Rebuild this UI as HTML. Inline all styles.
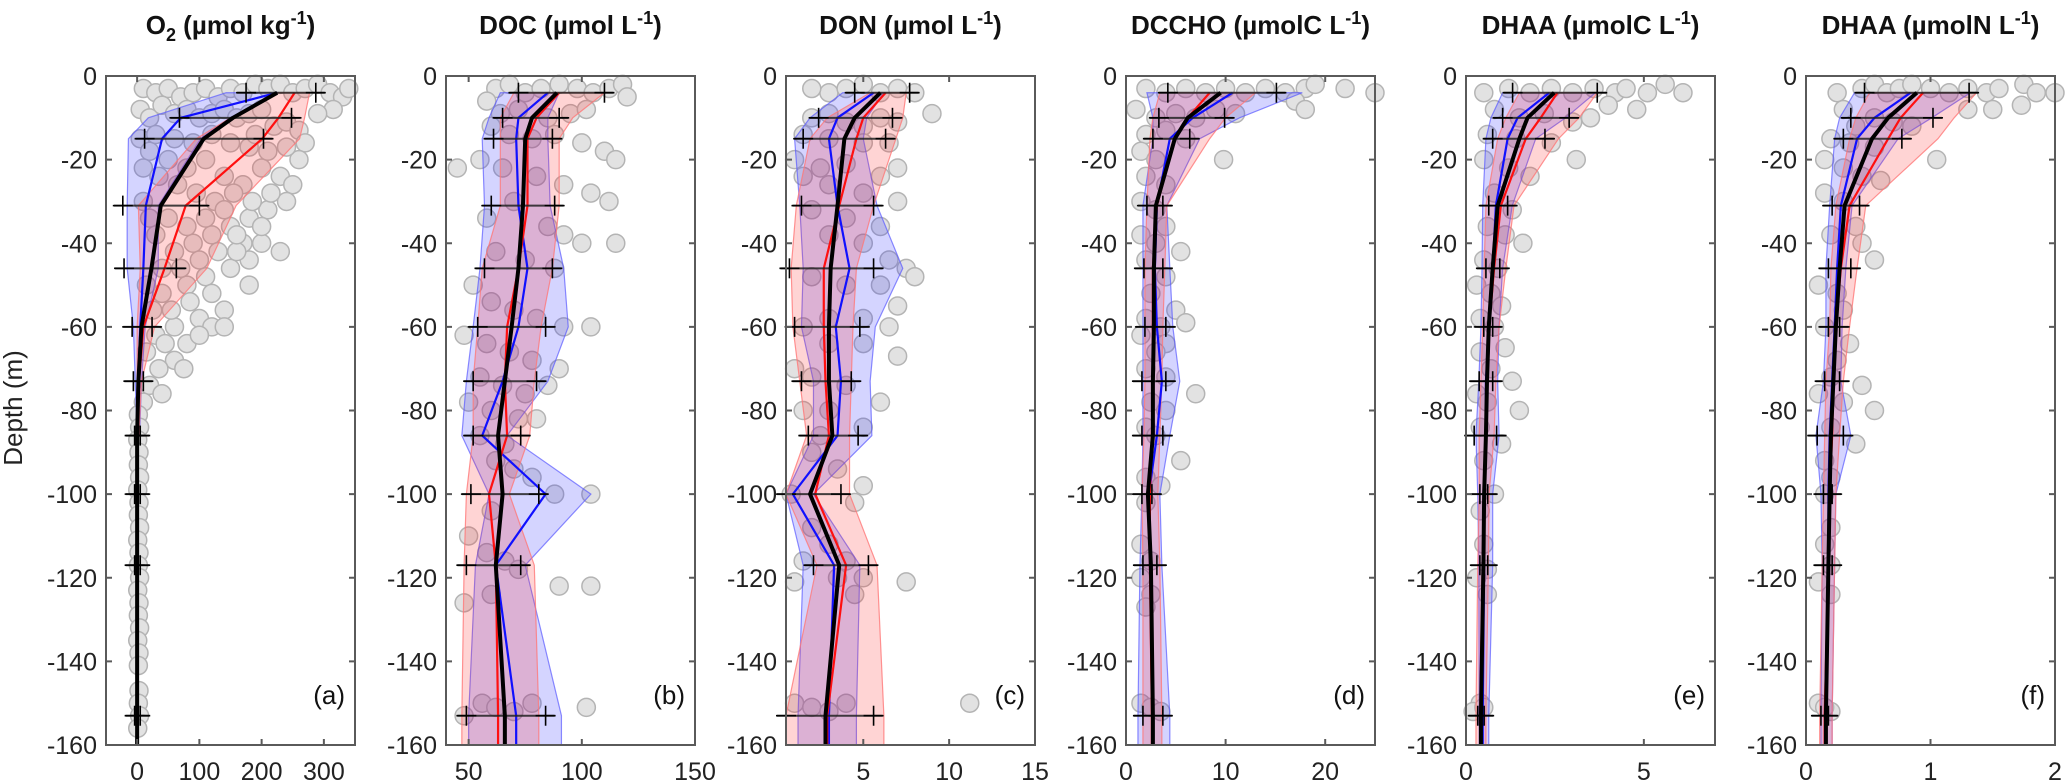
<!DOCTYPE html>
<html><head><meta charset="utf-8"><style>
html,body{margin:0;padding:0;background:#fff;}
svg{display:block;font-family:"Liberation Sans",Arial,sans-serif;}
</style></head><body>
<svg id="fig" width="2067" height="784" viewBox="0 0 2067 784" xmlns="http://www.w3.org/2000/svg">
<text x="0" y="0" transform="translate(22,408) rotate(-90)" text-anchor="middle" font-size="26" fill="#222">Depth (m)</text>
</svg>
<script>
const depths=[4,10,15,31,46,60,73,86,100,117,153,160];
// panel a O2
const aBlack=[225,154,107,38,23,7,2,0,0,0,0,0];
const aBlackLo=[175,68,12,-23,-21,-8,-6,-4,-4,-4,-4];
const aBlackHi=[287,248,203,100,63,24,10,5,5,5,5];
const aBlue=[225,70,40,14,10,5,2,0];
const aBlueLo=[143,18,-14,-16,-16,-6,-3,0];
const aBlueHi=[227,149,102,34,34,13,7,4];
const aRed=[253,227,201,78,44,10,3,0];
const aRedLo=[227,150,95,2,5,0,0,0];
const aRedHi=[277,269,261,159,112,28,7,3];
const aDots=[[10,3],[30,4],[50,3],[70,5],[90,4],[110,3],[130,5],[150,3],[170,4],[190,2],[210,3],[230,2],[250,4],[270,3],[290,2],[310,4],[330,5],[340,3],[315,8],[290,9],[5,8],[20,10],[40,7],[60,9],[80,8],[100,10],[120,9],[140,8],[160,10],[180,9],[200,8],[220,12],[240,11],[260,13],[270,16],[5,15],[20,18],[50,20],[80,22],[110,20],[140,24],[170,26],[200,22],[230,24],[250,26],[240,30],[210,32],[180,34],[150,36],[120,38],[90,40],[60,42],[30,38],[10,30],[200,40],[230,42],[180,44],[150,46],[110,48],[80,50],[40,52],[15,50],[120,52],[180,50],[140,56],[100,58],[60,60],[30,62],[120,60],[80,64],[60,68],[35,70],[140,60],[20,74],[10,78],
[30,14],[60,15],[90,16],[120,14],[150,16],[180,17],[210,18],[10,22],[35,24],[65,26],[95,28],[125,30],[155,28],[185,30],[215,28],[20,34],[50,34],[80,36],[110,34],[140,32],[170,40],[40,46],[70,46],[100,44],[130,42],[160,42],[55,56],[25,56],[85,54],[45,64],[100,62],[15,66],[75,70],[40,76],[160,38],[200,36],[260,20],[190,14],[240,17],
[2,81],[4,84],[1,87],[3,90],[2,93],[4,96],[1,99],[3,102],[2,105],[4,108],[1,111],[3,114],[2,117],[4,120],[1,123],[3,126],[2,129],[4,132],[1,135],[3,138],[2,141],[3,147],[2,150],[4,153],[1,156]];
// panel b DOC
const bBlack=[89,78,75,74,72,69,66,63,65,62,66,66];
const bBlackLo=[72,65,61,60,57,54,52,52,51,49,49];
const bBlackHi=[110,90,87,88,87,84,80,73,81,73,84];
const bBlue=[85,72,71,72,76,72,65,56,84,62,71,71];
const bBlueLo=[64,59,56,57,55,52,49,47,59,53,50,50];
const bBlueHi=[90,85,85,86,92,94,85,67,104,75,91,91];
const bRed=[90,80,76,76,72,67,66,67,59,62,63,63];
const bRedLo=[70,64,64,64,56,54,52,52,49,48,47,47];
const bRedHi=[110,96,90,90,87,82,79,77,68,79,81,81];
const bDots=[[62,3],[68,2],[75,4],[82,3],[90,2],[98,3],[105,4],[112,3],[118,2],[120,5],[58,6],[64,9],[72,8],[85,10],[95,9],[102,8],[60,12],[68,14],[78,15],[88,14],[100,16],[110,18],[115,20],[45,22],[55,20],[65,22],[80,24],[92,26],[104,28],[112,30],[70,30],[58,34],[85,36],[92,38],[100,40],[115,40],[62,42],[75,44],[88,46],[52,50],[60,54],[70,56],[80,58],[92,60],[104,60],[48,62],[58,64],[68,66],[78,68],[90,70],[55,72],[65,74],[75,76],[85,74],[50,78],[60,80],[72,82],[80,82],[55,86],[66,88],[62,92],[70,94],[78,96],[88,100],[104,100],[60,104],[50,110],[58,114],[66,116],[72,118],[90,122],[104,122],[48,126],[60,124],[56,150],[62,151],[70,152],[78,150],[102,151],[48,153]];
// panel c DON
const cBlack=[6.0,4.5,3.9,3.5,3.1,3.0,3.0,3.2,1.9,3.6,2.8,2.8];
const cBlackLo=[4.5,2.4,1.5,1.4,0.7,1.0,1.4,1.8,0.5,2.1,0.5];
const cBlackHi=[7.7,6.7,6.3,5.6,5.6,4.8,4.3,4.7,3.7,5.3,5.6];
const cBlue=[5.6,3.5,3.0,3.5,4.2,3.4,3.7,3.5,0.9,3.3,3.0,3.0];
const cBlueLo=[3.8,1.9,1.0,1.3,1.5,1.4,2.1,2.1,0.5,1.5,1.2,1.2];
const cBlueHi=[6.2,5.2,5.0,5.8,7.3,5.7,5.4,5.5,2.1,4.8,4.6,4.6];
const cRed=[6.3,5.0,4.6,3.6,2.7,2.7,2.8,3.0,2.2,4.0,2.9,2.9];
const cRedLo=[5.4,2.9,1.9,1.1,0.8,0.9,1.3,1.7,0.5,2.3,0.5,0.5];
const cRedHi=[7.5,7.3,6.9,5.6,4.6,4.4,4.3,4.2,4.2,5.8,6.2,6.2];
const cDots=[[3,4],[4,3],[5,2],[6,4],[7,3],[8,4],[2,3],[9,9],[2,10],[3,9],[4,11],[5,12],[6,10],[7,11],[1.5,14],[3,15],[5,16],[6.5,16],[1,20],[2.5,22],[4,21],[6,24],[7,22],[1.5,24],[3,26],[5,28],[7,30],[2,32],[4,34],[6,36],[3,38],[5,40],[6.5,44],[7.5,46],[8,48],[2,48],[4,50],[6,50],[7,55],[3,58],[5,58],[1.5,60],[6.5,60],[3,64],[5,64],[1,70],[7,67],[2,72],[4,74],[6,78],[3,80],[1.5,80],[5,84],[2.5,86],[2,90],[3.5,94],[5,98],[0.8,100],[4.5,102],[2,108],[3,112],[4,116],[1.5,116],[3.5,120],[5,120],[7.5,121],[1,121],[4.5,124],[1,150],[2,151],[3,152],[4,150],[11.2,150]];
// panel d DCCHO
const dBlack=[9.5,6.2,4.9,3.0,2.8,2.8,2.7,2.7,2.2,2.5,2.7,2.7];
const dBlackLo=[4.2,3.3,2.7,2.1,1.8,1.9,1.6,1.6,1.6,1.7,1.7];
const dBlackHi=[15.1,9.9,6.4,3.7,3.7,4.0,4.0,3.7,2.6,3.1,3.7];
const dBlue=[10.7,6.7,4.4,3.1,2.9,3.1,3.6,3.1,2.3,2.4,2.7,2.7];
const dBlueLo=[2.1,2.7,2.7,1.7,1.7,1.7,1.7,1.7,1.6,1.4,1.2,1.2];
const dBlueHi=[17.7,11.4,7.4,4.1,4.4,4.7,5.4,4.4,3.4,3.6,4.4,4.4];
const dRed=[8.4,6.2,4.9,3.1,2.7,2.7,2.7,2.6,2.4,2.4,2.6,2.6];
const dRedLo=[3.4,2.7,2.4,2.1,1.9,1.9,1.9,1.8,1.6,1.7,1.7,1.7];
const dRedHi=[13,10,8.4,4.1,3.9,3.7,3.6,3.4,3.2,3.4,3.6,3.6];
const dDots=[[2,3],[4,4],[6,3],[8,4],[10,3],[12,4],[14,3],[16,4],[18,3],[19,2],[22,3],[25,4],[17,6],[18,8],[1,8],[3,10],[5,9],[7,10],[9,8],[11,9],[2,14],[4,13],[6,15],[9.8,20],[1.5,18],[3,20],[2,24],[4,26],[1.5,30],[3,32],[4,36],[1.5,38],[3,40],[5.5,42],[2,44],[4,48],[2.5,52],[5,56],[2,58],[3.5,60],[6,59],[1.5,62],[4,64],[3,66],[2,70],[4,72],[7,76],[2.5,78],[4,80],[2,84],[3,86],[5.5,92],[2,96],[3.5,98],[2,102],[1.5,112],[2.5,116],[1.5,120],[2.5,124],[2,127],[1.5,150],[2.5,151],[3.5,152]];
// panel e DHAA C
const eBlack=[2.48,1.73,1.5,0.89,0.75,0.64,0.59,0.56,0.51,0.49,0.42,0.42];
const eBlackLo=[1.31,1.03,0.75,0.64,0.56,0.5,0.37,0.23,0.39,0.39,0.33];
const eBlackHi=[3.69,2.9,2.22,1.17,0.95,0.75,0.75,0.86,0.61,0.61,0.51];
const eBlue=[2.34,1.45,1.17,0.84,0.75,0.65,0.56,0.56,0.5,0.51,0.47,0.47];
const eBlueLo=[1.03,0.7,0.56,0.47,0.45,0.42,0.36,0.28,0.33,0.36,0.37,0.37];
const eBlueHi=[3.64,2.8,1.96,1.3,1.03,0.93,0.89,0.93,0.75,0.75,0.64,0.64];
const eRed=[2.57,2.1,1.68,0.98,0.79,0.65,0.59,0.56,0.5,0.47,0.4,0.4];
const eRedLo=[1.5,1.12,0.89,0.56,0.51,0.47,0.42,0.37,0.37,0.33,0.28,0.28];
const eRedHi=[3.69,3.18,2.6,1.35,1.12,0.93,0.84,0.79,0.65,0.63,0.56,0.56];
const eDots=[[0.5,4],[1.2,3],[1.8,4],[2.4,3],[3,4],[3.6,3],[4.2,4],[4.5,3],[5.1,4],[5.6,2],[6.1,4],[4.0,7],[4.8,8],[0.8,8],[1.5,10],[2.2,9],[3.0,11],[3.5,10],[0.6,14],[1.4,15],[2.4,16],[3.1,20],[0.5,20],[1.2,22],[1.8,24],[0.8,28],[1.3,32],[0.6,36],[1.1,38],[1.6,40],[0.5,44],[0.9,46],[0.3,50],[0.7,52],[1.0,55],[0.4,58],[0.8,60],[1.1,65],[0.4,66],[0.7,70],[1.3,73],[0.3,76],[0.6,78],[1.5,80],[0.4,84],[1.0,88],[0.5,92],[0.8,100],[0.4,104],[0.5,112],[0.6,118],[0.3,120],[0.6,124],[0.4,150],[0.2,152],[0.5,151]];
// panel f DHAA N
const fBlack=[0.89,0.66,0.53,0.31,0.27,0.24,0.22,0.2,0.19,0.18,0.16,0.16];
const fBlackLo=[0.47,0.36,0.3,0.21,0.18,0.18,0.15,0.09,0.14,0.14,0.12];
const fBlackHi=[1.31,1.02,0.77,0.43,0.36,0.27,0.27,0.3,0.21,0.21,0.18];
const fBlue=[0.84,0.55,0.41,0.28,0.25,0.23,0.21,0.19,0.18,0.18,0.16,0.16];
const fBlueLo=[0.39,0.27,0.23,0.19,0.16,0.16,0.14,0.08,0.12,0.13,0.12,0.12];
const fBlueHi=[1.32,1.01,0.74,0.37,0.32,0.29,0.28,0.36,0.24,0.23,0.21,0.21];
const fRed=[0.94,0.76,0.66,0.35,0.28,0.24,0.22,0.21,0.19,0.18,0.15,0.15];
const fRedLo=[0.51,0.4,0.35,0.24,0.2,0.19,0.16,0.15,0.14,0.13,0.11,0.11];
const fRedHi=[1.37,1.19,1.06,0.48,0.41,0.35,0.3,0.27,0.24,0.23,0.21,0.21];
const fDots=[[0.25,4],[0.45,3],[0.55,2],[0.65,4],[0.75,3],[0.85,2],[1.0,3],[1.15,4],[1.3,3],[1.45,4],[1.55,3],[1.75,2],[1.85,4],[2.0,4],[1.3,8],[1.73,7],[1.5,8],[0.3,8],[0.4,12],[0.55,10],[0.7,11],[0.85,12],[0.2,15],[0.35,16],[0.55,17],[1.05,20],[0.15,20],[0.3,22],[0.45,24],[0.6,25],[0.15,28],[0.3,30],[0.4,36],[0.2,38],[0.45,40],[0.55,44],[0.1,50],[0.25,52],[0.3,56],[0.15,60],[0.35,64],[0.25,68],[0.2,72],[0.45,74],[0.1,76],[0.3,78],[0.55,80],[0.2,84],[0.4,88],[0.15,92],[0.2,96],[0.15,100],[0.2,108],[0.15,112],[0.2,117],[0.1,121],[0.2,124],[0.1,150],[0.2,152],[0.15,151]];
const yTicks=[0,20,40,60,80,100,120,140,160];

const NS="http://www.w3.org/2000/svg";
const svg=document.getElementById('fig');
const TOP=76,BOT=745,W=249;
function mk(tag,attrs,parent){const e=document.createElementNS(NS,tag);for(const k in attrs)e.setAttribute(k,attrs[k]);(parent||svg).appendChild(e);return e;}

const panels=[
 {id:'a',left:106,xmin:-50,xmax:350,xt:[0,100,200,300],title:['O','2',' (µmol kg','-1',')'],blk:aBlack,blo:aBlackLo,bhi:aBlackHi,blu:aBlue,bluLo:aBlueLo,bluHi:aBlueHi,red:aRed,redLo:aRedLo,redHi:aRedHi,dots:aDots},
 {id:'b',left:446,xmin:40,xmax:150,xt:[50,100,150],title:['DOC (µmol L','','','-1',')'],blk:bBlack,blo:bBlackLo,bhi:bBlackHi,blu:bBlue,bluLo:bBlueLo,bluHi:bBlueHi,red:bRed,redLo:bRedLo,redHi:bRedHi,dots:bDots},
 {id:'c',left:786,xmin:0.5,xmax:15,xt:[5,10,15],title:['DON (µmol L','','','-1',')'],blk:cBlack,blo:cBlackLo,bhi:cBlackHi,blu:cBlue,bluLo:cBlueLo,bluHi:cBlueHi,red:cRed,redLo:cRedLo,redHi:cRedHi,dots:cDots},
 {id:'d',left:1126,xmin:0,xmax:25,xt:[0,10,20],title:['DCCHO (µmolC L','','','-1',')'],blk:dBlack,blo:dBlackLo,bhi:dBlackHi,blu:dBlue,bluLo:dBlueLo,bluHi:dBlueHi,red:dRed,redLo:dRedLo,redHi:dRedHi,dots:dDots},
 {id:'e',left:1466,xmin:0,xmax:7,xt:[0,5],title:['DHAA (µmolC L','','','-1',')'],blk:eBlack,blo:eBlackLo,bhi:eBlackHi,blu:eBlue,bluLo:eBlueLo,bluHi:eBlueHi,red:eRed,redLo:eRedLo,redHi:eRedHi,dots:eDots},
 {id:'f',left:1806,xmin:0,xmax:2,xt:[0,1,2],title:['DHAA (µmolN L','','','-1',')'],blk:fBlack,blo:fBlackLo,bhi:fBlackHi,blu:fBlue,bluLo:fBlueLo,bluHi:fBlueHi,red:fRed,redLo:fRedLo,redHi:fRedHi,dots:fDots}
];

function py(d){return TOP+d/160*(BOT-TOP);}

panels.forEach(p=>{
 const px=v=>p.left+(v-p.xmin)/(p.xmax-p.xmin)*W;
 const g=mk('g',{});
 
 
 const t=mk('text',{x:p.left+W/2,y:34,'text-anchor':'middle','font-size':26,'font-weight':'bold',fill:'#111'},g);
 
 
 const parts=p.title;
 const s0=mk('tspan',{},t);s0.textContent=parts[0];
 if(parts[1]){const s=mk('tspan',{dy:7,'font-size':18},t);s.textContent=parts[1];const s2=mk('tspan',{dy:-7},t);s2.textContent=parts[2];}
 const s3=mk('tspan',{dy:-10,'font-size':18},t);s3.textContent=parts[3];
 const s4=mk('tspan',{dy:10},t);s4.textContent=parts[4];
 const dg=mk('g',{},g);
 
 
 p.dots.forEach(d=>{const c=mk('circle',{cx:px(d[0]),cy:py(d[1]),r:9,fill:'#e2e2e2',stroke:'#b4b4b4','stroke-width':1.5},dg);
  
  });
 function band(lo,hi,fill,stroke,name){
  const n=lo.length;let pts=[];
  for(let i=0;i<n;i++)pts.push(px(lo[i])+','+py(depths[i]));
  for(let i=n-1;i>=0;i--)pts.push(px(hi[i])+','+py(depths[i]));
  const b=mk('polygon',{points:pts.join(' '),fill:fill,stroke:stroke,'stroke-width':1.2},g);
  
  
 }
 band(p.bluLo,p.bluHi,'rgba(40,40,255,0.2)','rgba(90,90,255,0.7)','blue-range-band-'+p.id);
 band(p.redLo,p.redHi,'rgba(255,40,40,0.2)','rgba(255,120,120,0.8)','red-range-band-'+p.id);
 function line(vals,color,w,name){
  const pts=vals.map((v,i)=>px(v)+','+py(depths[i])).join(' ');
  const l=mk('polyline',{points:pts,fill:'none',stroke:color,'stroke-width':w,'stroke-linejoin':'round'},g);
  
  
 }
 line(p.blu,'#1010ff',2.2,'blue-mean-line-'+p.id);
 line(p.red,'#ff1010',2.2,'red-mean-line-'+p.id);
 const eg=mk('g',{},g);
 
 
 p.blo.forEach((lo,i)=>{
  const y=py(depths[i]),x1=px(lo),x2=px(p.bhi[i]);
  mk('line',{x1:x1-9,x2:x2+9,y1:y,y2:y,stroke:'#222','stroke-width':2,'stroke-opacity':0.85},eg);
  [x1,x2].forEach(x=>{mk('line',{x1:x-10,x2:x+10,y1:y,y2:y,stroke:'#000','stroke-width':1.6},eg);mk('line',{x1:x,x2:x,y1:y-10,y2:y+10,stroke:'#000','stroke-width':1.6},eg);});
 });
 line(p.blk,'#000',4,'black-mean-line-'+p.id);
 const fr=mk('rect',{x:p.left,y:TOP,width:W,height:BOT-TOP,fill:'none',stroke:'#5a5a5a','stroke-width':2},g);
 
 
 yTicks.forEach(d=>{
  const y=py(d);
  mk('line',{x1:p.left,x2:p.left+6,y1:y,y2:y,stroke:'#5a5a5a','stroke-width':2},g);
  mk('line',{x1:p.left+W-6,x2:p.left+W,y1:y,y2:y,stroke:'#5a5a5a','stroke-width':2},g);
  const lb=mk('text',{x:p.left-9,y:y+9,'text-anchor':'end','font-size':25,fill:'#222'},g);
  
  
  lb.textContent=d===0?'0':'-'+d;
 });
 p.xt.forEach(v=>{
  const x=px(v);
  mk('line',{x1:x,x2:x,y1:BOT,y2:BOT-6,stroke:'#5a5a5a','stroke-width':2},g);
  mk('line',{x1:x,x2:x,y1:TOP,y2:TOP+6,stroke:'#5a5a5a','stroke-width':2},g);
  const lb=mk('text',{x:x,y:780,'text-anchor':'middle','font-size':25,fill:'#222'},g);
  
  
  lb.textContent=String(v);
 });
 const pl=mk('text',{x:p.left+W-10,y:704,'text-anchor':'end','font-size':26,fill:'#111'},g);
 
 
 pl.textContent='('+p.id+')';
});
</script>
</body></html>
